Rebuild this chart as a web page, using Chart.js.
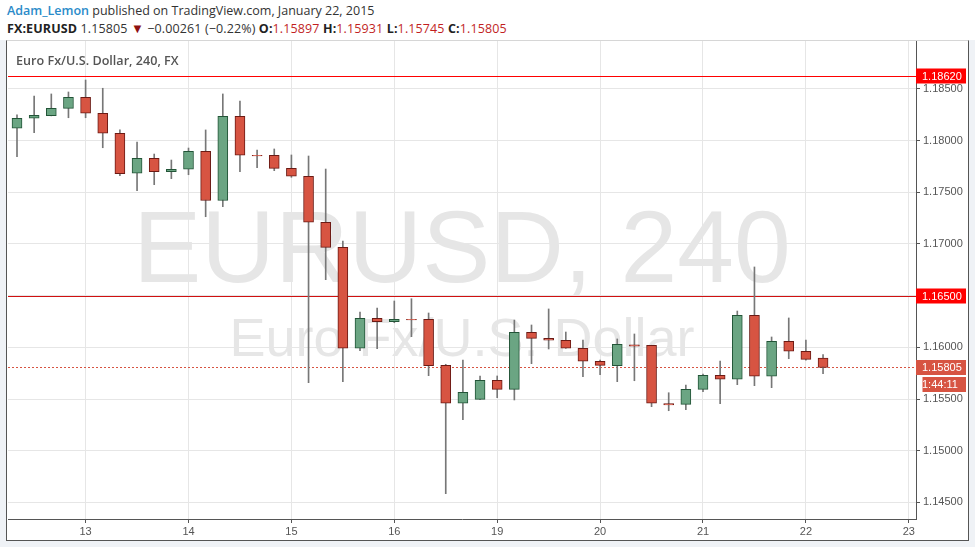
<!DOCTYPE html>
<html>
<head>
<meta charset="utf-8">
<script src="https://cdn.jsdelivr.net/npm/chart.js@4.4.1/dist/chart.umd.min.js"></script>
<style>
  html,body{margin:0;padding:0;}
  body{width:975px;height:547px;position:relative;overflow:hidden;background:#fff;font-family:"Open Sans",sans-serif;}
  .hdr{position:absolute;left:7px;font-size:12.5px;line-height:16px;color:#333;white-space:nowrap;}
  .hdr b{font-weight:700;color:#222;}
  .author{color:#2a8bc9;font-weight:600;}
  .red{color:#c21f1f;}
  .tri{color:#8e1111;font-size:13px;}
  #frame{position:absolute;left:0;top:40px;width:975px;height:507px;background:#eff2f6;}
  #box{position:absolute;left:6px;top:0;width:963px;height:501px;box-sizing:border-box;background:#fff;
       border-left:1px solid #555;border-right:1px solid #555;border-bottom:1px solid #555;border-top:1px solid #d6d6d6;}
  .wm{position:absolute;left:8px;width:908px;text-align:center;color:#e6e6e6;font-family:"Liberation Sans",Arial,sans-serif;line-height:1;white-space:nowrap;}
  #title{position:absolute;left:16px;top:52px;font-size:12.6px;font-weight:600;color:#555;font-family:"Open Sans",sans-serif;white-space:nowrap;}
  #c{position:absolute;left:8px;top:41px;}
</style>
</head>
<body>
<div class="hdr" style="top:3px;"><span class="author">Adam_Lemon</span> published on TradingView.com, January 22, 2015</div>
<div class="hdr" style="top:20px;letter-spacing:0.12px;"><b>FX:EURUSD</b> 1.15805 <span class="tri">▼</span> −0.00261 (−0.22%) <b>O:</b><span class="red">1.15897</span> <b>H:</b><span class="red">1.15931</span> <b>L:</b><span class="red">1.15745</span> <b>C:</b><span class="red">1.15805</span></div>
<div id="frame"><div id="box"></div></div>
<div class="wm" style="top:196px;font-size:102px;">EURUSD, 240</div>
<div class="wm" style="top:310px;font-size:54px;">Euro Fx/U.S. Dollar</div>
<canvas id="c" width="960" height="499"></canvas>
<div id="title">Euro Fx/U.S. Dollar, 240, FX</div>
<script>
// ---- data (4h EURUSD candles, Jan 12 - Jan 22, 2015) ----
const dayLabels  = ['13','14','15','16','19','20','21','22','23'];
const dayTickIdx = [4, 10, 16, 22, 28, 34, 40, 46, 52];
const yTicks = [1.145, 1.15, 1.155, 1.16, 1.165, 1.17, 1.175, 1.18, 1.185];

const opens = [1.18118,1.18215,1.18240,1.18311,1.18418,1.18263,1.18070,1.17683,1.17828,1.17698,
  1.17722,1.17896,1.17420,1.18234,1.17857,1.17857,1.17731,1.17654,1.17209,1.16967,
  1.15991,1.16281,1.16248,1.16271,1.16271,1.15826,1.15459,1.15497,1.15681,1.15594,
  1.16145,1.16087,1.16068,1.15991,1.15865,1.15822,1.16025,1.16019,1.15455,1.15449,
  1.15594,1.15730,1.15691,1.16310,1.15720,1.16058,1.15962,1.15897];
const highs = [1.18247,1.18430,1.18450,1.18469,1.18585,1.18505,1.18102,1.17985,1.17869,1.17811,
  1.17927,1.18102,1.18450,1.18382,1.17908,1.17918,1.17860,1.17850,1.17724,1.17028,
  1.16342,1.16380,1.16448,1.16470,1.16332,1.15836,1.15877,1.15723,1.15723,1.16264,
  1.16216,1.16371,1.16148,1.16071,1.15877,1.16081,1.16129,1.16020,1.15561,1.15636,
  1.15742,1.15868,1.16351,1.16777,1.16100,1.16284,1.16071,1.15931];
const lows = [1.17843,1.18075,1.18238,1.18220,1.18220,1.17930,1.17660,1.17515,1.17573,1.17631,
  1.17669,1.17263,1.17360,1.17698,1.17737,1.17708,1.17644,1.15658,1.16654,1.15668,
  1.15967,1.15987,1.16238,1.16103,1.15726,1.14585,1.15300,1.15495,1.15513,1.15491,
  1.15842,1.15984,1.15990,1.15716,1.15735,1.15668,1.15677,1.15426,1.15387,1.15397,
  1.15571,1.15455,1.15639,1.15629,1.15610,1.15890,1.15875,1.15745];
const closes = [1.18215,1.18244,1.18311,1.18418,1.18263,1.18070,1.17679,1.17828,1.17698,1.17722,
  1.17896,1.17420,1.18234,1.17857,1.17851,1.17731,1.17654,1.17209,1.16967,1.15991,
  1.16281,1.16248,1.16271,1.16265,1.15822,1.15459,1.15565,1.15681,1.15594,1.16145,
  1.16087,1.16068,1.15991,1.15865,1.15826,1.16029,1.16012,1.15459,1.15442,1.15594,
  1.15730,1.15691,1.16310,1.15720,1.16058,1.15962,1.15884,1.15805];

const levelLines = [1.1862, 1.165];
const lastPrice = 1.15805;
const countdown = '1:44:11';

// ---- styling ----
const UP_FILL='#6ba583', UP_EDGE='#225437', DN_FILL='#d75442', DN_EDGE='#6b1a14';
const isUp = closes.map((c,i)=> c >= opens[i]);

const wickData = lows.map((l,i)=>({x:i, y:[l, highs[i]]}));
const bodyData = opens.map((o,i)=>({x:i, y:[o, closes[i]]}));

const overlay = {
  id:'overlay',
  beforeDatasetsDraw(chart){
    const {ctx, chartArea:a, scales:{y}} = chart;
    ctx.save();
    ctx.beginPath(); ctx.rect(a.left,a.top,a.right-a.left,a.bottom-a.top); ctx.clip();
    levelLines.forEach((v,k)=>{
      const py = Math.round(y.getPixelForValue(v))+0.5;
      ctx.strokeStyle = k===0 ? '#ff0000' : '#d01010';
      ctx.lineWidth = 1;
      ctx.beginPath(); ctx.moveTo(a.left,py); ctx.lineTo(a.right,py); ctx.stroke();
    });
    const ly = Math.round(y.getPixelForValue(lastPrice))+0.5;
    ctx.strokeStyle='#d75442'; ctx.setLineDash([2,2]);
    ctx.beginPath(); ctx.moveTo(a.left,ly); ctx.lineTo(a.right,ly); ctx.stroke();
    ctx.restore();
  },
  afterDraw(chart){
    const {ctx, chartArea:a, scales:{y}} = chart;
    ctx.save();
    ctx.font = '11px "Liberation Sans", Arial, sans-serif';
    ctx.textBaseline='middle'; ctx.textAlign='left';
    const box=(label,bg,x0,yc)=>{
      ctx.fillStyle=bg; ctx.fillRect(x0, yc-7.5, a.right+50-x0, 15);
      ctx.fillStyle='#fff'; ctx.fillText(label, a.right+6, yc+0.5);
    };
    levelLines.forEach(v=>{
      const py = Math.round(y.getPixelForValue(v));
      box(v.toFixed(5), '#ff0000', a.right, py);
    });
    const ly = Math.round(y.getPixelForValue(lastPrice));
    box(lastPrice.toFixed(5), '#d75442', a.right, ly+0.5);
    box(countdown, '#d75442', a.right+6.5, ly+17.5);
    ctx.restore();
  }
};

const noPad = (s)=>{ s.paddingTop=0; s.paddingBottom=0; s.paddingLeft=0; s.paddingRight=0; };

Chart.defaults.font.family = '"Liberation Sans", Arial, sans-serif';
Chart.defaults.font.size = 11;
Chart.defaults.color = '#555';

new Chart(document.getElementById('c'), {
  type:'bar',
  data:{
    datasets:[
      { label:'body', data:bodyData, order:0, grouped:false,
        backgroundColor:isUp.map(u=>u?UP_FILL:DN_FILL),
        borderColor:isUp.map(u=>u?UP_EDGE:DN_EDGE),
        borderWidth:1, borderSkipped:false, barThickness:10 },
      { label:'wick', data:wickData, order:1, grouped:false,
        backgroundColor:'#777', borderWidth:0, barThickness:1 }
    ]
  },
  options:{
    responsive:false, animation:false,
    layout:{padding:0},
    plugins:{legend:{display:false}, tooltip:{enabled:false}},
    scales:{
      x:{ type:'linear', min:-0.525, max:52.42, offset:false,
        afterBuildTicks(s){ s.ticks = dayTickIdx.map(v=>({value:v})); },
        afterFit(s){ s.height = 21; noPad(s); },
        ticks:{ callback:(v)=> dayLabels[dayTickIdx.indexOf(v)] ?? '', padding:2, maxRotation:0, autoSkip:false, color:'#555' },
        grid:{ color:'#e6e6e6', tickColor:'#555', tickLength:4, drawTicks:true, offset:false },
        border:{ display:true, color:'#555' }
      },
      y:{ type:'linear', position:'right', min:1.14340, max:1.18962,
        afterBuildTicks(s){ s.ticks = yTicks.map(v=>({value:v})); },
        afterFit(s){ s.width = 52; noPad(s); },
        ticks:{ callback:(v)=> v.toFixed(5), padding:3, color:'#555' },
        grid:{ color:'#e6e6e6', tickColor:'#555', tickLength:4 },
        border:{ display:true, color:'#555' }
      }
    }
  },
  plugins:[overlay]
});
</script>
</body>
</html>
